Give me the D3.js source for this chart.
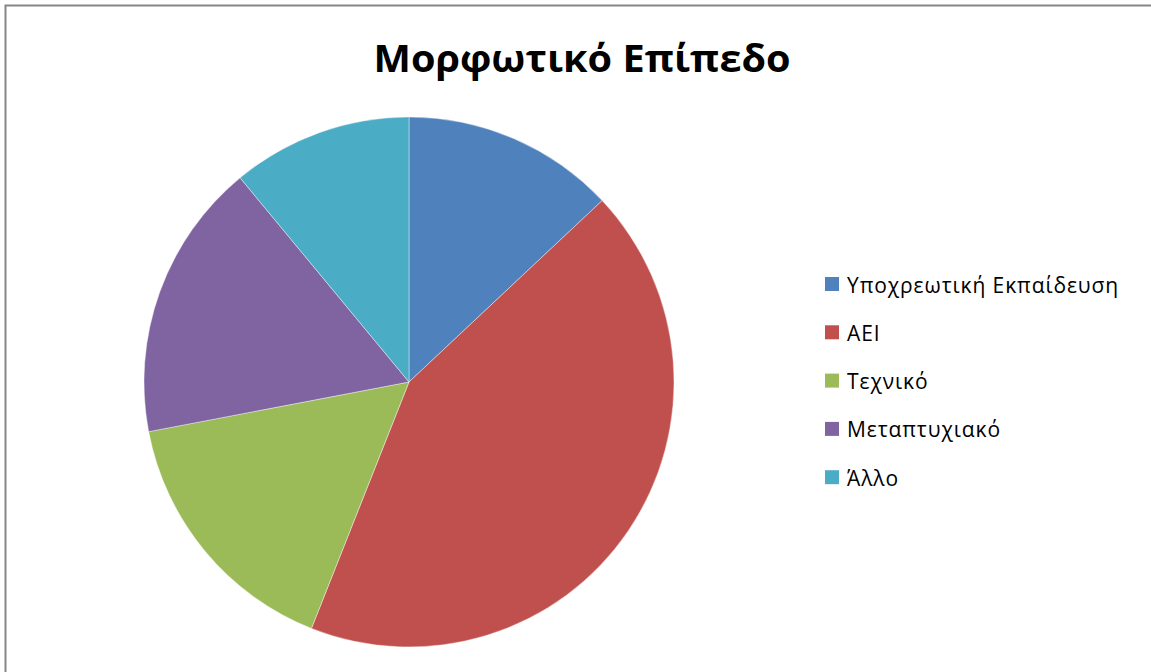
<!DOCTYPE html>
<html>
<head>
<meta charset="utf-8">
<script src="https://cdn.jsdelivr.net/npm/d3@7"></script>
<style>
  html, body { margin: 0; padding: 0; background: #fff; }
  svg { display: block; }
</style>
</head>
<body>
<div id="chart"></div>
<script>
var categories = ['Υποχρεωτική Εκπαίδευση', 'ΑΕΙ', 'Τεχνικό', 'Μεταπτυχιακό', 'Άλλο'];
var values = [13, 43, 16, 17, 11];
var colors = ['#4F81BD', '#C0504D', '#9BBB59', '#8064A2', '#4BACC6'];
var title = 'Μορφωτικό Επίπεδο';

var width = 1151, height = 672;
var svg = d3.select('#chart').append('svg')
    .attr('width', width)
    .attr('height', height);

// frame (runs off the right and bottom edges)
svg.append('rect')
    .attr('x', 5.5).attr('y', 5.5)
    .attr('width', width + 10).attr('height', height + 10)
    .attr('fill', 'none')
    .attr('stroke', '#868686')
    .attr('stroke-width', 2);

svg.append('text')
    .attr('x', 582).attr('y', 72)
    .attr('text-anchor', 'middle')
    .attr('font-family', 'Open Sans, sans-serif')
    .attr('font-weight', 'bold')
    .attr('font-size', 38)
    .attr('textLength', 417)
    .attr('lengthAdjust', 'spacingAndGlyphs')
    .attr('fill', '#000')
    .text(title);

var cx = 409, cy = 382, r = 265;
var pie = d3.pie().sort(null).value(function(d) { return d; });
var arc = d3.arc().innerRadius(0).outerRadius(r);

var g = svg.append('g').attr('transform', 'translate(' + cx + ',' + cy + ')');
g.selectAll('path')
    .data(pie(values))
    .enter().append('path')
    .attr('d', arc)
    .attr('fill', function(d, i) { return colors[i]; })
    .attr('stroke', 'rgba(255,255,255,0.5)')
    .attr('stroke-width', 0.8);

var legend = svg.append('g').attr('transform', 'translate(825,277)');
var rowH = 48.3;
var items = legend.selectAll('g')
    .data(categories)
    .enter().append('g')
    .attr('transform', function(d, i) { return 'translate(0,' + (i * rowH) + ')'; });
items.append('rect')
    .attr('width', 14).attr('height', 14)
    .attr('fill', function(d, i) { return colors[i]; });
items.append('text')
    .attr('x', 22).attr('y', 15.5)
    .attr('font-family', 'Open Sans, sans-serif')
    .attr('font-size', 21)
    .attr('letter-spacing', 0.9)
    .attr('fill', '#000')
    .text(function(d) { return d; });
</script>
</body>
</html>
